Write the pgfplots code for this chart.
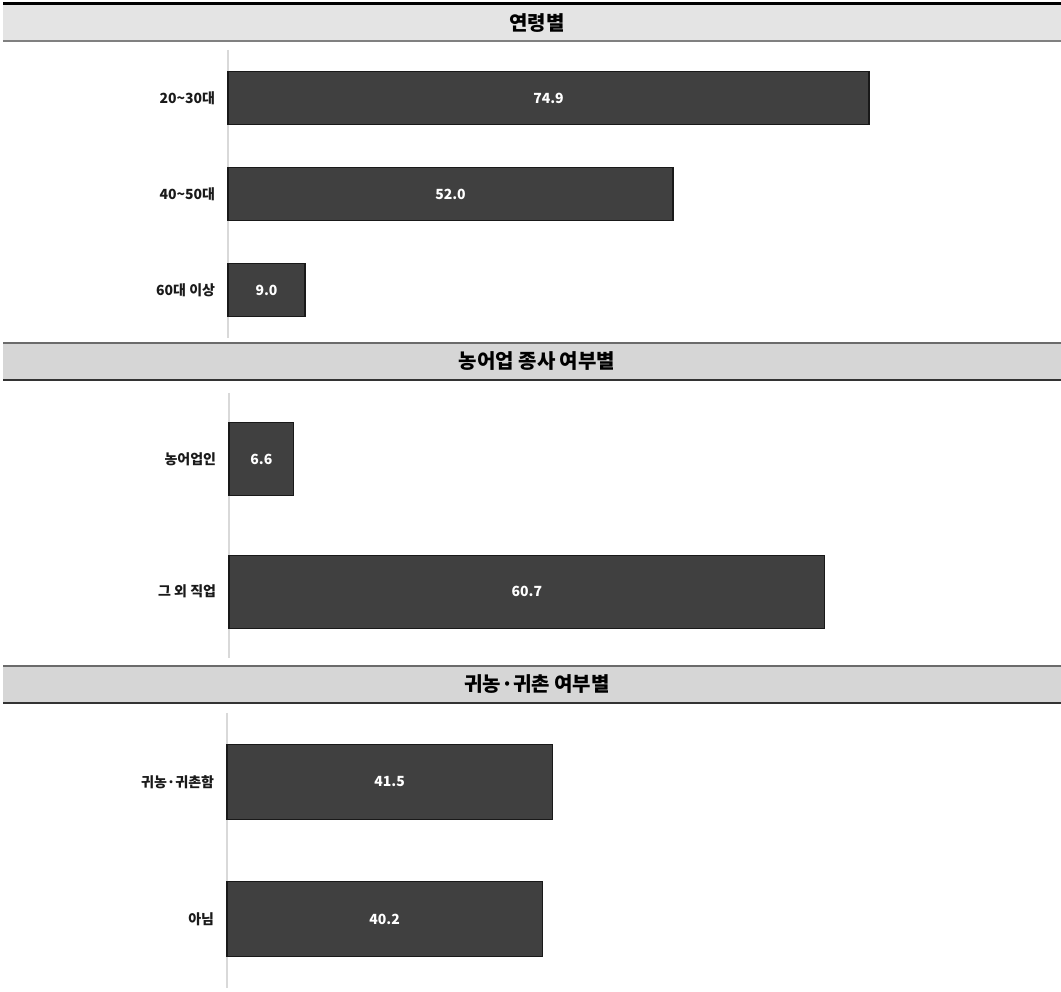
\documentclass[border=0pt]{standalone}
\usepackage{pgfplots}
\pgfplotsset{compat=1.18}
\usepackage{pgfplotstable}
\usepackage{fontspec}
\setmainfont{Noto Sans CJK KR}
\definecolor{barfill}{HTML}{404040}
\definecolor{hdrA}{HTML}{E4E4E4}
\definecolor{hdrB}{HTML}{D6D6D6}
\definecolor{axgray}{HTML}{D9D9D9}
\definecolor{labtxt}{HTML}{1A1A1A}

\pgfplotstableread{
i v lab
0 74.9 74.9
1 52.0 52.0
2 9.0 9.0
}\ageTable
\pgfplotstableread{
i v lab
0 6.6 6.6
1 60.7 60.7
}\farmTable
\pgfplotstableread{
i v lab
0 41.5 41.5
1 40.2 40.2
}\returnTable

\pgfplotsset{
  panel/.style={
    scale only axis,
    anchor=south west,
    width=609pt,
    xmin=0,
    axis x line=none,
    axis y line=left,
    y axis line style={-, draw=axgray, line width=1.5pt},
    y dir=reverse,
    ymin=-0.5,
    ytick={0,1,2},
    major tick length=0pt,
    ytick style={draw=none},
    yticklabel style={font=\fontsize{10.5}{12}\selectfont\bfseries, text=labtxt, inner sep=0pt, xshift=-9.5pt},
    clip=false,
  },
  barplot/.style={xbar, fill=barfill, draw=black!90, line width=0.8pt},
  valplot/.style={only marks, mark=none, nodes near coords, point meta=explicit symbolic,
    every node near coord/.style={anchor=center, text=white, font=\fontsize{10.5}{12}\selectfont\bfseries}},
}

\begin{document}
\begin{tikzpicture}
\begin{scope}[x=0.75pt, y=0.75pt]
\path[use as bounding box] (0,0) rectangle (1061,992);

% header 1
\fill[hdrA] (3,987) rectangle (1061,951);
\draw[black, line width=2.25pt] (3,988) -- (1061,988);
\draw[black!50, line width=1.5pt] (3,951) -- (1061,951);
\node[font=\fontsize{15}{17}\selectfont\bfseries] at (537,969) {연령별};

% header 2
\fill[hdrB] (3,649) rectangle (1061,612);
\draw[black!58, line width=0.9pt] (3,649) -- (1061,649);
\draw[black!80, line width=1.1pt] (3,612) -- (1061,612);
\node[font=\fontsize{15}{17}\selectfont\bfseries] at (537,630.5) {농어업 종사 여부별};

% header 3
\fill[hdrB] (3,326) rectangle (1061,289);
\draw[black!58, line width=0.9pt] (3,326) -- (1061,326);
\draw[black!80, line width=1.1pt] (3,289) -- (1061,289);
\node[font=\fontsize{15}{17}\selectfont\bfseries] at (537,307.5) {귀농·귀촌 여부별};
\end{scope}

% panel 1
\begin{axis}[panel, at={(171pt,490.5pt)}, height=216pt, xmax=94.88, ymax=2.5,
  yticklabels={20\textasciitilde30대, 40\textasciitilde50대, 60대 이상}]
\addplot[barplot, bar width=39.75pt] table[x=v, y=i] {\ageTable};
\addplot[valplot] table[x expr=\thisrow{v}/2, y=i, meta=lab] {\ageTable};
\end{axis}

% panel 2
\begin{axis}[panel, at={(171.75pt,250.5pt)}, height=198.75pt, xmax=82.76, ymax=1.5,
  ytick={0,1}, yticklabels={농어업인, 그 외 직업}]
\addplot[barplot, bar width=55pt] table[x=v, y=i] {\farmTable};
\addplot[valplot] table[x expr=\thisrow{v}/2, y=i, meta=lab] {\farmTable};
\end{axis}

% panel 3
\begin{axis}[panel, at={(170.25pt,3pt)}, height=206.25pt, xmax=103.57, ymax=1.5,
  ytick={0,1}, yticklabels={귀농·귀촌함, 아님}]
\addplot[barplot, bar width=56.25pt] table[x=v, y=i] {\returnTable};
\addplot[valplot] table[x expr=\thisrow{v}/2, y=i, meta=lab] {\returnTable};
\end{axis}
\end{tikzpicture}
\end{document}
